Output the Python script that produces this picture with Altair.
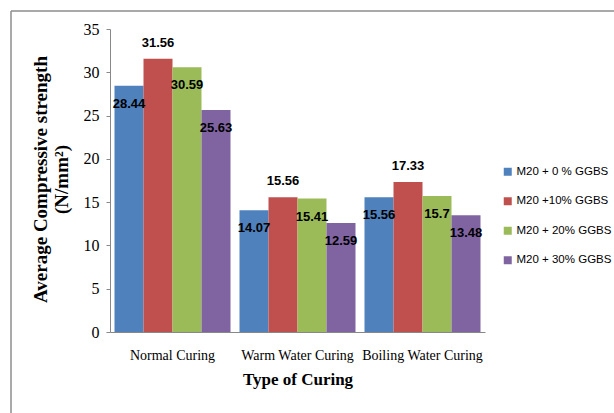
import altair as alt
import pandas as pd

# Compressive strength (N/mm²) of M20 concrete with GGBS replacement, by curing type
curing_types = ["Normal Curing", "Warm Water Curing", "Boiling Water Curing"]
mixes = ["M20 + 0 % GGBS", "M20 +10% GGBS", "M20 + 20% GGBS", "M20 + 30% GGBS"]
mix_colors = ["#4F81BD", "#C0504D", "#9BBB59", "#8064A2"]

ggbs_0 = [28.44, 14.07, 15.56]
ggbs_10 = [31.56, 15.56, 17.33]
ggbs_20 = [30.59, 15.41, 15.7]
ggbs_30 = [25.63, 12.59, 13.48]

rows = []
for mix, values in zip(mixes, [ggbs_0, ggbs_10, ggbs_20, ggbs_30]):
    for curing, v in zip(curing_types, values):
        rows.append({"curing": curing, "mix": mix, "strength": v, "label": f"{v:g}"})
df = pd.DataFrame(rows)

x_enc = alt.X(
    "curing:N",
    sort=curing_types,
    scale=alt.Scale(paddingInner=0.072, paddingOuter=0.036),
    axis=alt.Axis(
        title="Type of Curing",
        titleFont="Liberation Serif",
        titleFontSize=17,
        titleFontWeight="bold",
        titleColor="#000000",
        titlePadding=9,
        labelFont="Liberation Serif",
        labelFontSize=14,
        labelColor="#000000",
        labelAngle=0,
        labelPadding=16,
        ticks=False,
        domainColor="#888888",
    ),
)
xoff = alt.XOffset("mix:N", sort=mixes, scale=alt.Scale(paddingInner=0, paddingOuter=0))
y_enc = alt.Y(
    "strength:Q",
    scale=alt.Scale(domain=[0, 35], nice=False),
    axis=alt.Axis(
        values=[0, 5, 10, 15, 20, 25, 30, 35],
        grid=False,
        title=["Average Compressive strength", "(N/mm²)"],
        titleFont="Liberation Serif",
        titleFontSize=19,
        titleFontWeight="bold",
        titleColor="#000000",
        titleAngle=270,
        titleBaseline="top",
        titleLineHeight=21,
        titleX=-79,
        titleY=150,
        labelFont="Liberation Serif",
        labelFontSize=16,
        labelColor="#000000",
        labelPadding=7,
        tickSize=4,
        tickColor="#888888",
        domainColor="#888888",
    ),
)

base = alt.Chart(df)

bars = base.mark_bar(size=29).encode(
    x=x_enc,
    xOffset=xoff,
    y=y_enc,
    color=alt.Color(
        "mix:N",
        sort=mixes,
        scale=alt.Scale(domain=mixes, range=mix_colors),
        legend=alt.Legend(
            title=None,
            orient="none",
            legendX=392,
            legendY=137,
            symbolType="square",
            symbolSize=64,
            symbolStrokeWidth=0,
            labelFont="Liberation Sans",
            labelFontSize=11.5,
            labelColor="#000000",
            rowPadding=16.5,
            labelOffset=3,
        ),
    ),
)

label_style = dict(font="Liberation Sans", fontSize=13, fontWeight="bold", color="#000000", baseline="middle")

# 10% GGBS values sit above their bars, the rest just inside the top
labels_above = base.transform_filter(alt.datum.mix == mixes[1]).mark_text(dy=-16, **label_style).encode(
    x=alt.X("curing:N", sort=curing_types), xOffset=xoff, y="strength:Q", text="label:N"
)
labels_inside = base.transform_filter(alt.datum.mix != mixes[1]).mark_text(dy=18, **label_style).encode(
    x=alt.X("curing:N", sort=curing_types), xOffset=xoff, y="strength:Q", text="label:N"
)

# thin frame around the chart
frame_df = pd.DataFrame({"k": [0]})
frame_top = alt.Chart(frame_df).mark_rule(color="#8c8c8c", strokeWidth=1.5).encode(
    x=alt.value(-99), x2=alt.value(510), y=alt.value(-18)
)
frame_left = alt.Chart(frame_df).mark_rule(color="#8c8c8c", strokeWidth=1.5).encode(
    x=alt.value(-99), y=alt.value(-18), y2=alt.value(390)
)

chart = (
    alt.layer(bars, labels_above, labels_inside, frame_top, frame_left)
    .properties(
        width=375,
        height=303,
        autosize=alt.AutoSizeParams(type="none"),
        padding={"left": 110, "top": 29, "right": 129, "bottom": 81},
        background="#ffffff",
    )
    .configure_view(stroke=None)
)

chart.save("out.html", embed_options={"renderer": "svg", "actions": False})
